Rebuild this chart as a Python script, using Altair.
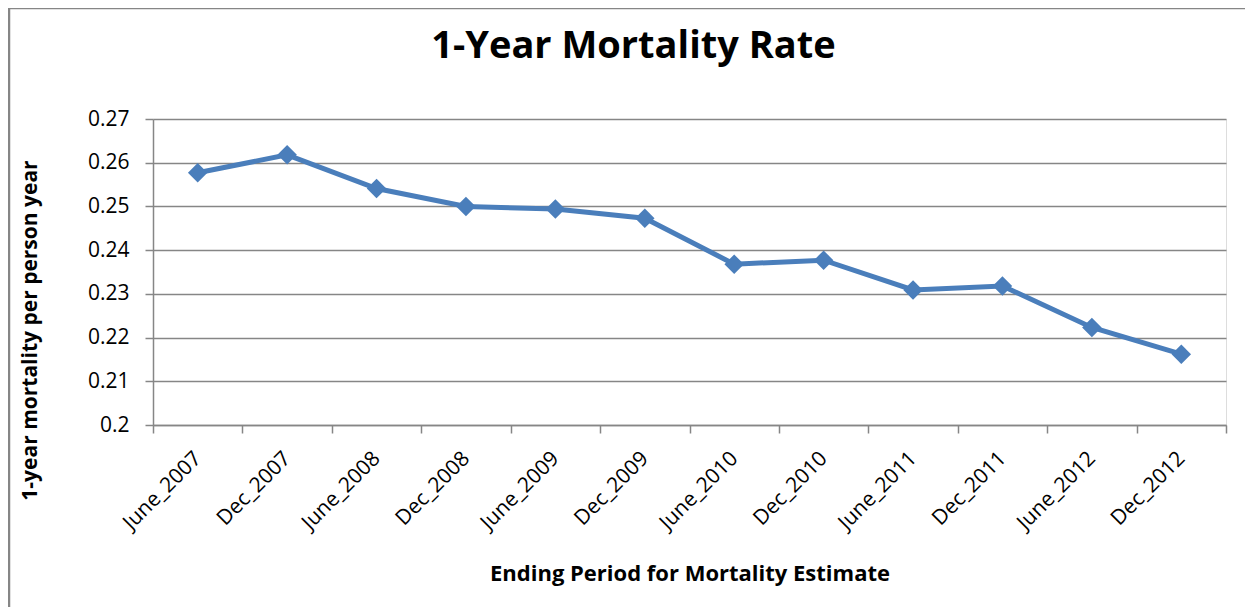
import altair as alt
import pandas as pd

periods = ["June_2007", "Dec_2007", "June_2008", "Dec_2008", "June_2009", "Dec_2009",
           "June_2010", "Dec_2010", "June_2011", "Dec_2011", "June_2012", "Dec_2012"]
rates = [0.2577, 0.2618, 0.2541, 0.2500, 0.2494, 0.2473,
         0.2368, 0.2377, 0.2309, 0.2318, 0.2223, 0.2162]
y_ticks = [0.20, 0.21, 0.22, 0.23, 0.24, 0.25, 0.26, 0.27]

df = pd.DataFrame({"period": periods, "rate": rates})

FONT = "Open Sans"
GRID = "#868686"
BLUE = "#4A7EBB"
W, H = 1073, 306

x_enc = alt.X(
    "period:N", sort=periods, scale=alt.Scale(paddingInner=0, paddingOuter=0),
    axis=alt.Axis(
        title="Ending Period for Mortality Estimate",
        labelAngle=-45, labelAlign="right", labelBaseline="middle",
        labelPadding=22, tickBand="extent", tickSize=8, tickColor=GRID,
        tickWidth=1.5, domainColor=GRID, domainWidth=1.5,
        labelFont=FONT, labelFontSize=21, labelColor="black",
        titleFont=FONT, titleFontSize=22, titleFontWeight="bold", titleColor="black",
        titleX=W / 2, titleY=148, titleBaseline="middle", titleAnchor="middle",
        grid=False, labelOverlap=False,
    ),
)
y_enc = alt.Y(
    "rate:Q", scale=alt.Scale(domain=[0.2, 0.27], nice=False, zero=False),
    axis=alt.Axis(
        title="1-year mortality per person year", values=y_ticks, format=".2~f",
        tickSize=8, tickColor=GRID, tickWidth=1.5, domainColor=GRID, domainWidth=1.5,
        gridColor=GRID, gridWidth=1.5, grid=True,
        labelFont=FONT, labelFontSize=21, labelColor="black", labelPadding=16,
        titleFont=FONT, titleFontSize=21, titleFontWeight="bold", titleColor="black",
        titleX=-123, titleY=211, titleBaseline="middle", titleAngle=-90,
        titleAnchor="middle",
    ),
)

line = alt.Chart(df).mark_line(
    color=BLUE, strokeWidth=5,
    point=alt.OverlayMarkDef(shape="diamond", size=380, color=BLUE, filled=True, opacity=1),
).encode(x=x_enc, y=y_enc)

border = alt.Chart(pd.DataFrame({"a": [0]})).mark_rect(
    fill="transparent", stroke=GRID, strokeWidth=2.5
).encode(
    x=alt.value(-144), x2=alt.value(W + 60),
    y=alt.value(-111), y2=alt.value(H + 220),
)

chart = alt.layer(border, line).properties(
    width=W, height=H,
    title=alt.TitleParams(
        "1-Year Mortality Rate", font=FONT, fontSize=38, fontWeight="bold",
        color="black", anchor="middle", frame="group", dx=-56, offset=-89,
        baseline="alphabetic",
    ),
    autosize=alt.AutoSizeParams(type="none"),
    padding={"left": 145, "top": 111, "right": 19, "bottom": 182},
).configure_view(stroke=None).configure(background="white")

chart.save("out.html", embed_options={"renderer": "svg", "actions": False})
